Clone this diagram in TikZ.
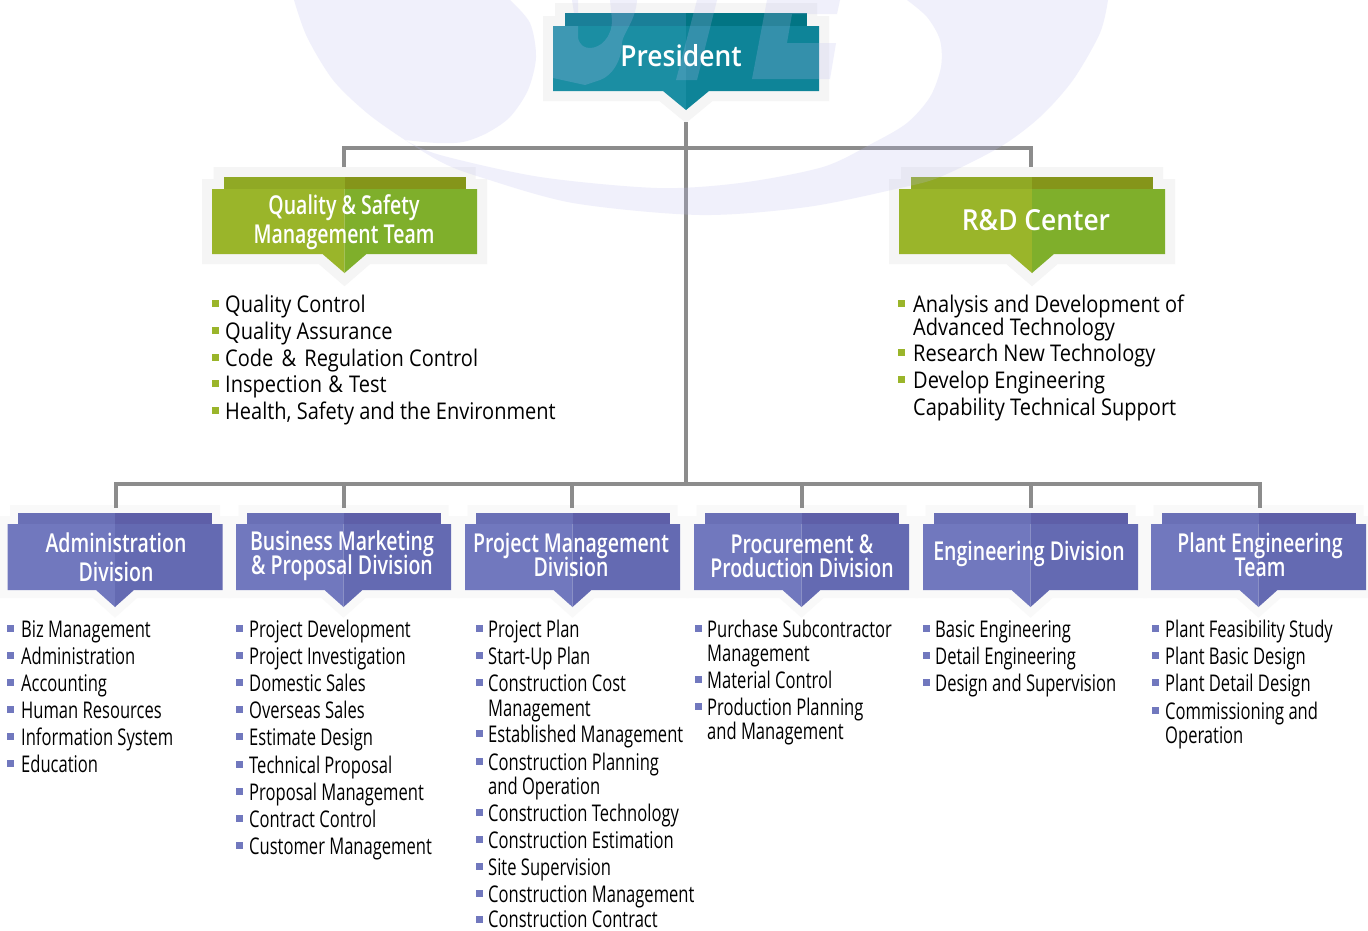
\documentclass[tikz,border=0pt]{standalone}
\usepackage{fontspec}
\setmainfont{Open Sans}
\newfontfamily\lowfont[FakeStretch=.72]{Open Sans}
\newfontfamily\topfont[FakeStretch=.87]{Open Sans}
\newfontfamily\headfont[FakeStretch=.75]{Open Sans Semibold}
\newfontfamily\bigfont[FakeStretch=.91]{Open Sans Semibold}
\setlength\normallineskiplimit{-30pt}
\setlength\lineskiplimit{-30pt}
\definecolor{halo}{HTML}{F5F5F5}
\definecolor{halolow}{HTML}{F9F9F9}
\definecolor{tealL}{HTML}{1B8EA3}
\definecolor{tealR}{HTML}{0E8498}
\definecolor{tealBL}{HTML}{1A7F98}
\definecolor{tealBR}{HTML}{027584}
\definecolor{greenL}{HTML}{9AB52A}
\definecolor{greenR}{HTML}{7FAF2B}
\definecolor{greenBL}{HTML}{90A925}
\definecolor{greenBR}{HTML}{85951A}
\definecolor{purpL}{HTML}{7178BE}
\definecolor{purpR}{HTML}{646AB2}
\definecolor{purpBL}{HTML}{6A70B6}
\definecolor{purpBR}{HTML}{5E5FA8}
\definecolor{conn}{HTML}{8C8C8C}
\definecolor{mark}{HTML}{BCBCF0}
\newcounter{itemno}
\tikzset{
  listtext/.style={anchor=base west,inner sep=0pt,text=black},
  lowtext/.style={listtext,font=\lowfont\fontsize{23bp}{23bp}\selectfont},
  toptext/.style={listtext,font=\topfont\fontsize{23bp}{23bp}\selectfont},
  headtext/.style={inner sep=0pt,text=white,align=center,font=\headfont\fontsize{26bp}{24bp}\selectfont},
  headwide/.style={inner sep=0pt,text=white,align=center,font=\headfont\fontsize{26bp}{28.5bp}\selectfont},
  bigtext/.style={inner sep=0pt,text=white,align=center,font=\bigfont\fontsize{29bp}{29bp}\selectfont},
  connector/.style={draw=conn,line width=4bp,line join=miter},
  watermark/.style={fill=mark,fill opacity=.22},
  bannerhalo/.style={fill=halo,draw=halo,line width=20bp,line join=miter},
  lowhalo/.style={fill=halolow,draw=halolow,line width=16bp,line join=miter},
}
% #1 halo style, then #2 cx, #3 half width, #4 band half width, #5 top, #6 main top, #7 bottom, #8 tip, #9 arrow half width; colour prefix in \bannercol
\newcommand\banner[9]{%
  \path[#1]
    (#2-#4,#5) -- (#2+#4,#5) -- (#2+#4,#6) -- (#2+#3,#6) -- (#2+#3,#7) -- (#2+#9,#7)
    -- (#2,#8) -- (#2-#9,#7) -- (#2-#3,#7) -- (#2-#3,#6) -- (#2-#4,#6) -- cycle;
  \fill[\bannercol L] (#2,#6) -- (#2-#3,#6) -- (#2-#3,#7) -- (#2-#9,#7) -- (#2,#8) -- cycle;
  \fill[\bannercol R] (#2,#6) -- (#2+#3,#6) -- (#2+#3,#7) -- (#2+#9,#7) -- (#2,#8) -- cycle;
  \fill[\bannercol BL] (#2-#4,#5) rectangle (#2,#6);
  \fill[\bannercol BR] (#2,#5) rectangle (#2+#4,#6);
}
% #1 colour, #2 bullet x, #3 text x, #4 centre y, #5 style, #6 text
\newcommand\itm[6]{%
  \stepcounter{itemno}%
  \fill[#1] (#2,#4-4) rectangle (#2+7,#4+3);
  \node[#5] (line\arabic{itemno}) at (#3,#4+8) {#6};
}
\newcommand\cnt[4]{%
  \stepcounter{itemno}%
  \node[#3] (line\arabic{itemno}) at (#1,#2+8) {#4};
}
\begin{document}
\begin{tikzpicture}[x=1bp,y=-1bp]
\useasboundingbox (0,0) rectangle (1368,930);
\fill[white] (0,0) rectangle (1368,930);
% connector anchors
\coordinate (presOut) at (686,122);
\coordinate (upBus) at (686,148);
\coordinate (lowBus) at (686,484);
\coordinate (qsIn) at (344,167);
\coordinate (rdIn) at (1031,167);
\coordinate (admIn) at (116,508);
\coordinate (bizIn) at (344,508);
\coordinate (pmIn) at (572,508);
\coordinate (procIn) at (802,508);
\coordinate (engIn) at (1031,508);
\coordinate (plantIn) at (1260,508);
% banners
\def\bannercol{teal}
\banner{bannerhalo}{686}{133}{121}{13}{26}{91}{110}{23}
\def\bannercol{green}
\banner{bannerhalo}{344.5}{132.5}{121}{177}{189}{254}{273}{22}
\banner{bannerhalo}{1032}{133}{121}{177}{189}{254}{273}{22}
\def\bannercol{purp}
\banner{lowhalo}{115}{107.5}{97}{513}{524}{590}{607}{19}
\banner{lowhalo}{343.5}{107.5}{97}{513}{524}{590}{607}{19}
\banner{lowhalo}{572.5}{107.5}{97}{513}{524}{590}{607}{19}
\banner{lowhalo}{801.5}{107.5}{97}{513}{524}{590}{607}{19}
\banner{lowhalo}{1030.5}{107.5}{97}{513}{524}{590}{607}{19}
\banner{lowhalo}{1258.5}{107.5}{97}{513}{524}{590}{607}{19}
% connectors
\draw[connector] (presOut) -- (lowBus);
\draw[connector] (qsIn) |- (upBus) -| (rdIn);
\draw[connector] (admIn) |- (lowBus) -| (plantIn);
\draw[connector] (bizIn) -- (bizIn |- lowBus);
\draw[connector] (pmIn) -- (pmIn |- lowBus);
\draw[connector] (procIn) -- (procIn |- lowBus);
\draw[connector] (engIn) -- (engIn |- lowBus);
% watermark
\fill[watermark] plot[smooth] coordinates {(294,0) (307,37) (333,80) (367,113) (405,140) (443,163) (480,177) (573,203) (700,215) (807,207) (900,188) (940,177) (1000,147) (1040,117) (1073,80) (1100,33) (1108,0)}
  -- plot[smooth] coordinates {(907,0) (927,17) (940,40) (941,67) (930,97) (907,123) (873,143) (823,167) (740,183) (657,188) (540,177) (440,155) (405,140)}
  -- plot[smooth] coordinates {(405,140) (437,143) (463,142) (487,133) (510,117) (528,90) (536,57) (530,23) (510,0)} -- cycle;
\fill[watermark] (553,26) -- (578,26) -- (578,38) .. controls (580,46) and (585,48) .. (590,48) .. controls (600,48) and (612,38) .. (612,20) -- (610,0) -- (637,0) .. controls (636,20) and (622,35) .. (622,43) .. controls (622,60) and (612,76) .. (600,80) -- (585,85) -- (553,78) -- cycle;
\fill[watermark] (572,0) -- (578,0) -- (578,13) -- (574,13) -- cycle;
\fill[watermark] (697,0) -- (717,0) -- (697,80) -- (676,80) -- cycle;
\fill[watermark] (767,0) -- (840,0) -- (837,14) -- (792,14) -- (787,43) -- (836,43) -- (830,79) -- (752,79) -- cycle;
% banner titles
\node[bigtext] (president) at (681,56) {President};
\node[headwide] (qsTitle) at (344,222) {Quality \& Safety\\Management Team};
\node[bigtext] (rdTitle) at (1036,220) {R\&D Center};
\node[headwide] (admTitle) at (116,557) {Administration\\Division};
\node[headtext] (bizTitle) at (342,556) {Business Marketing\\\& Proposal Division};
\node[headtext] (pmTitle) at (571,555) {Project Management\\Division};
\node[headtext] (procTitle) at (802,556) {Procurement \&\\Production Division};
\node[headtext] (engTitle) at (1029,554) {Engineering Division};
\node[headtext] (plantTitle) at (1260,555) {Plant Engineering\\Team};
% top lists
\itm{greenL}{212}{225}{304}{toptext}{Quality Control}
\itm{greenL}{212}{225}{331}{toptext}{Quality Assurance}
\itm{greenL}{212}{225}{358}{toptext}{Code\kern3bp{} \&\kern3bp{} Regulation Control}
\itm{greenL}{212}{225}{384}{toptext}{Inspection\kern1bp{} \&\kern1bp{} Test}
\itm{greenL}{212}{225}{411}{toptext}{Health, Safety and the Environment}
\itm{greenL}{898}{913}{304}{toptext}{Analysis and Development of}
\cnt{913}{327}{toptext}{Advanced Technology}
\itm{greenL}{898}{913}{353}{toptext}{Research New Technology}
\itm{greenL}{898}{913}{380}{toptext}{Develop Engineering}
\cnt{913}{407}{toptext}{Capability Technical Support}
% administration
\itm{purpL}{7}{21}{629}{lowtext}{Biz Management}
\itm{purpL}{7}{21}{656}{lowtext}{Administration}
\itm{purpL}{7}{21}{683}{lowtext}{Accounting}
\itm{purpL}{7}{21}{710}{lowtext}{Human Resources}
\itm{purpL}{7}{21}{737}{lowtext}{Information System}
\itm{purpL}{7}{21}{764}{lowtext}{Education}
% business
\itm{purpL}{236}{249}{629}{lowtext}{Project Development}
\itm{purpL}{236}{249}{656}{lowtext}{Project Investigation}
\itm{purpL}{236}{249}{683}{lowtext}{Domestic Sales}
\itm{purpL}{236}{249}{710}{lowtext}{Overseas Sales}
\itm{purpL}{236}{249}{737}{lowtext}{Estimate Design}
\itm{purpL}{236}{249}{765}{lowtext}{Technical Proposal}
\itm{purpL}{236}{249}{792}{lowtext}{Proposal Management}
\itm{purpL}{236}{249}{819}{lowtext}{Contract Control}
\itm{purpL}{236}{249}{846}{lowtext}{Customer Management}
% project
\itm{purpL}{476}{488}{629}{lowtext}{Project Plan}
\itm{purpL}{476}{488}{656}{lowtext}{Start-Up Plan}
\itm{purpL}{476}{488}{683}{lowtext}{Construction Cost}
\cnt{488}{708}{lowtext}{Management}
\itm{purpL}{476}{488}{734}{lowtext}{Established Management}
\itm{purpL}{476}{488}{762}{lowtext}{Construction Planning}
\cnt{488}{786}{lowtext}{and Operation}
\itm{purpL}{476}{488}{813}{lowtext}{Construction Technology}
\itm{purpL}{476}{488}{840}{lowtext}{Construction Estimation}
\itm{purpL}{476}{488}{867}{lowtext}{Site Supervision}
\itm{purpL}{476}{488}{894}{lowtext}{Construction Management}
\itm{purpL}{476}{488}{919.5}{lowtext}{Construction Contract}
% procurement
\itm{purpL}{695}{707}{629}{lowtext}{Purchase Subcontractor}
\cnt{707}{653}{lowtext}{Management}
\itm{purpL}{695}{707}{680}{lowtext}{Material Control}
\itm{purpL}{695}{707}{707}{lowtext}{Production Planning}
\cnt{707}{731}{lowtext}{and Management}
% engineering
\itm{purpL}{923}{935}{629}{lowtext}{Basic Engineering}
\itm{purpL}{923}{935}{656}{lowtext}{Detail Engineering}
\itm{purpL}{923}{935}{683}{lowtext}{Design and Supervision}
% plant
\itm{purpL}{1152}{1165}{629}{lowtext}{Plant Feasibility Study}
\itm{purpL}{1152}{1165}{656}{lowtext}{Plant Basic Design}
\itm{purpL}{1152}{1165}{683}{lowtext}{Plant Detail Design}
\itm{purpL}{1152}{1165}{711}{lowtext}{Commissioning and}
\cnt{1165}{735}{lowtext}{Operation}
\end{tikzpicture}
\end{document}
